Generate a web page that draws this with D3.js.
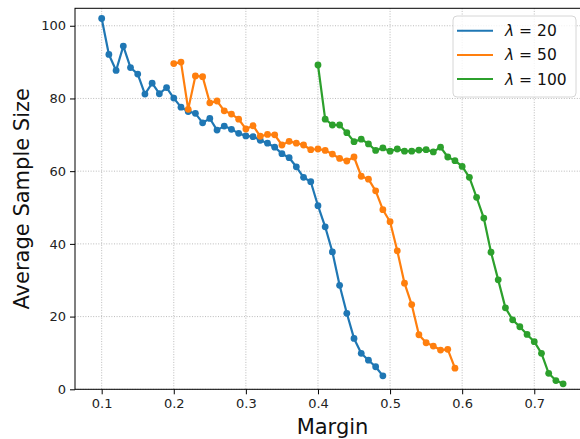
<!DOCTYPE html>
<html>
<head>
<meta charset="utf-8">
<script src="https://cdn.jsdelivr.net/npm/d3@7"></script>
<style>
  html, body { margin: 0; padding: 0; background: #fff; }
  svg { display: block; font-family: "DejaVu Sans", sans-serif; }
</style>
</head>
<body>
<svg id="chart" width="580" height="439"></svg>
<script>
// ---- data ----
const margin20 = [0.10,0.11,0.12,0.13,0.14,0.15,0.16,0.17,0.18,0.19,0.20,0.21,0.22,0.23,0.24,0.25,0.26,0.27,0.28,0.29,0.30,0.31,0.32,0.33,0.34,0.35,0.36,0.37,0.38,0.39,0.40,0.41,0.42,0.43,0.44,0.45,0.46,0.47,0.48,0.49];
const size20 = [102,92.1,87.7,94.4,88.5,86.7,81.2,84.2,81.3,83.0,80.1,77.6,76.4,75.9,73.3,74.5,71.3,72.4,71.5,70.4,69.7,69.5,68.5,67.7,66.6,64.8,63.7,61.2,58.3,57.1,50.5,44.7,37.8,28.6,20.9,14.0,9.9,8.0,6.2,3.7];

const margin50 = [0.20,0.21,0.22,0.23,0.24,0.25,0.26,0.27,0.28,0.29,0.30,0.31,0.32,0.33,0.34,0.35,0.36,0.37,0.38,0.39,0.40,0.41,0.42,0.43,0.44,0.45,0.46,0.47,0.48,0.49,0.50,0.51,0.52,0.53,0.54,0.55,0.56,0.57,0.58,0.59];
const size50 = [89.6,90.0,77.0,86.2,86.0,78.8,79.3,76.6,75.7,74.3,71.6,72.5,69.6,70.1,70.0,67.2,68.2,67.7,67.2,65.9,66.1,65.7,64.7,63.5,62.8,63.9,58.6,57.8,54.6,49.4,46.1,38.1,29.2,23.3,15.0,12.8,11.9,10.8,11.0,5.8];

const margin100 = [0.40,0.41,0.42,0.43,0.44,0.45,0.46,0.47,0.48,0.49,0.50,0.51,0.52,0.53,0.54,0.55,0.56,0.57,0.58,0.59,0.60,0.61,0.62,0.63,0.64,0.65,0.66,0.67,0.68,0.69,0.70,0.71,0.72,0.73,0.74];
const size100 = [89.2,74.3,72.7,72.7,70.6,68.1,68.8,67.5,65.7,66.4,65.5,66.1,65.5,65.5,65.8,65.9,65.3,66.6,63.9,62.9,61.3,58.3,52.8,47.1,37.7,30.1,22.4,19.1,17.2,15.1,13.1,9.9,4.4,2.4,1.5];

const seriesNames = ["\u03bb = 20", "\u03bb = 50", "\u03bb = 100"];
const seriesColors = ["#1f77b4", "#ff7f0e", "#2ca02c"];
const xTicks = [0.1,0.2,0.3,0.4,0.5,0.6,0.7];
const yTicks = [0,20,40,60,80,100];
const xLabel = "Margin";
const yLabel = "Average Sample Size";

const series = [
  {name: seriesNames[0], color: seriesColors[0], xs: margin20, ys: size20},
  {name: seriesNames[1], color: seriesColors[1], xs: margin50, ys: size50},
  {name: seriesNames[2], color: seriesColors[2], xs: margin100, ys: size100}
];

// ---- layout ----
const plot = {left: 75, right: 590, top: 8.3, bottom: 389.3};
const x = d3.scaleLinear().domain([0.0630, 0.7773]).range([plot.left, plot.right]);
const y = d3.scaleLinear().domain([0, 104.8]).range([plot.bottom, plot.top]);

const svg = d3.select("#chart");

// grid
const grid = svg.append("g");
grid.selectAll("line.gx").data(xTicks).enter().append("line")
  .attr("x1", d => x(d)).attr("x2", d => x(d))
  .attr("y1", plot.top).attr("y2", plot.bottom)
  .attr("stroke", "#aaaaaa").attr("stroke-width", 0.8).attr("stroke-dasharray", "1,1.6");
grid.selectAll("line.gy").data(yTicks).enter().append("line")
  .attr("x1", plot.left).attr("x2", plot.right)
  .attr("y1", d => y(d)).attr("y2", d => y(d))
  .attr("stroke", "#aaaaaa").attr("stroke-width", 0.8).attr("stroke-dasharray", "1,1.6");

// series
const line = d3.line().x(d => x(d[0])).y(d => y(d[1]));
series.forEach(s => {
  const pts = s.xs.map((v, i) => [v, s.ys[i]]);
  const g = svg.append("g");
  g.append("path").datum(pts).attr("d", line)
    .attr("fill", "none").attr("stroke", s.color).attr("stroke-width", 2.2)
    .attr("stroke-linejoin", "round");
  g.selectAll("circle").data(pts).enter().append("circle")
    .attr("cx", d => x(d[0])).attr("cy", d => y(d[1])).attr("r", 3.4)
    .attr("fill", s.color);
});

// axes
const xAxis = d3.axisBottom(x).tickValues(xTicks).tickFormat(d3.format(".1f")).tickSize(5).tickPadding(4);
const yAxis = d3.axisLeft(y).tickValues(yTicks).tickFormat(d3.format("d")).tickSize(5).tickPadding(4);
const gx = svg.append("g").attr("transform", `translate(0,${plot.bottom})`).call(xAxis);
const gy = svg.append("g").attr("transform", `translate(${plot.left},0)`).call(yAxis);
[gx, gy].forEach(g => {
  g.select(".domain").remove();
  g.selectAll("line").attr("stroke", "#000").attr("stroke-width", 1);
  g.selectAll("text").attr("font-family", "DejaVu Sans").attr("font-size", 13).attr("fill", "#222");
});

// spines
svg.append("rect").attr("x", plot.left).attr("y", plot.top)
  .attr("width", plot.right - plot.left).attr("height", plot.bottom - plot.top)
  .attr("fill", "none").attr("stroke", "#000").attr("stroke-width", 1);

// axis labels
svg.append("text").attr("x", (plot.left + plot.right) / 2).attr("y", 434)
  .attr("text-anchor", "middle").attr("font-size", 21).attr("fill", "#111").text(xLabel);
svg.append("text").attr("transform", `translate(29,${(plot.top + plot.bottom) / 2}) rotate(-90)`)
  .attr("text-anchor", "middle").attr("font-size", 21).attr("fill", "#111").text(yLabel);

// legend
const lg = svg.append("g");
lg.append("rect").attr("x", 453).attr("y", 16).attr("width", 123).attr("height", 81)
  .attr("rx", 4).attr("fill", "#fff").attr("fill-opacity", 0.8)
  .attr("stroke", "#d6d6d6").attr("stroke-width", 1);
series.forEach((s, i) => {
  const yy = 30.7 + i * 24.2;
  lg.append("line").attr("x1", 457).attr("x2", 493).attr("y1", yy).attr("y2", yy)
    .attr("stroke", s.color).attr("stroke-width", 2);
  const t = lg.append("text").attr("x", 505).attr("y", yy + 5.5).attr("font-size", 15.5).attr("fill", "#111");
  t.append("tspan").attr("font-style", "italic").text("\u03bb");
  t.append("tspan").text(s.name.slice(1));
});
</script>
</body>
</html>
